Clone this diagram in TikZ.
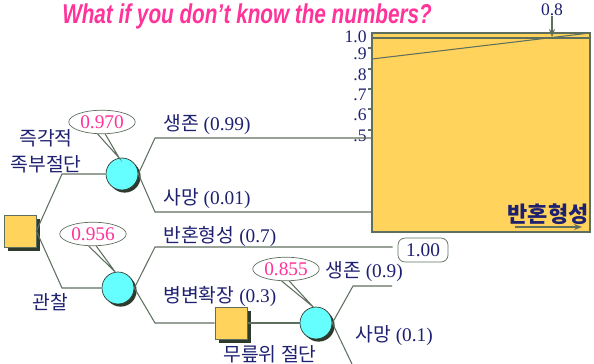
\documentclass[tikz,border=0pt]{standalone}
\usepackage{fontspec}
\setmainfont{Liberation Serif}
\setsansfont{Liberation Sans}
\newfontfamily\kr{Noto Sans CJK KR}
\usetikzlibrary{arrows.meta,shapes.geometric,shadows}
\definecolor{navytxt}{HTML}{1E2070}
\definecolor{pinkval}{HTML}{FF3399}
\definecolor{linegray}{HTML}{5F6F5F}
\definecolor{decyellow}{HTML}{FFD35C}
\definecolor{chancecyan}{HTML}{66FFFF}
\definecolor{shadowdark}{HTML}{2F3A2F}

\begin{document}
\begin{tikzpicture}[
    x=0.02cm, y=-0.02cm,
    font=\fontsize{11}{13}\selectfont, text=navytxt,
    dec/.style={rectangle, draw=linegray, fill=decyellow, minimum size=0.64cm, inner sep=0pt, drop shadow={shadow xshift=2pt, shadow yshift=-2pt, fill=shadowdark, opacity=1}},
    chance/.style={circle, draw=shadowdark, fill=chancecyan, minimum size=0.64cm, inner sep=0pt, drop shadow={shadow xshift=1.5pt, shadow yshift=-1.5pt, fill=shadowdark, opacity=1}},
    val/.style={ellipse, draw=linegray, fill=white, text=pinkval, inner sep=1pt, minimum width=1.0cm, minimum height=0.4cm},
    valbox/.style={rectangle, rounded corners=4pt, draw=linegray, fill=white, inner sep=2pt, minimum width=1.0cm, minimum height=0.48cm},
    chart/.style={rectangle, draw=linegray, fill=decyellow, line width=0.8pt, minimum width=4.36cm, minimum height=3.98cm, inner sep=0pt},
    lbl/.style={inner sep=0pt, align=center},
    tick/.style={font=\fontsize{10}{11}\selectfont, inner sep=0pt, anchor=east},
    br/.style={draw=linegray, line width=0.6pt},
    fl/.style={-{Stealth[length=1.6mm]}, draw=linegray, line width=0.6pt}
  ]
  \useasboundingbox (0,0) rectangle (594,364);

  % title
  \node[lbl, text=pinkval, xscale=0.76, transform shape, font=\sffamily\bfseries\itshape\fontsize{15.5}{18}\selectfont] (title) at (247,16) {What if you don’t know the numbers?};

  % plot of the value against p(반혼형성)
  \node[chart] (ch) at (481,132.5) {};
  \draw[br] (372,38) -- (590,38);
  \draw[br] (372,59) -- (590,33);
  \node[tick, anchor=center] (p8) at (552,10) {0.8};
  \draw[fl] (p8.south) -- (552,37);
  \node[tick] (y10) at (367,37) {1.0};
  \foreach \yy/\tt in {48/.9, 69/.8, 89/.7, 109/.6, 130/.5}{
    \draw[br] (368,\yy) -- (372,\yy);
    \node[tick] at (367,\yy+6) {\tt};
  }
  \node[lbl, font=\kr\bfseries\fontsize{12.5}{14}\selectfont] (xlab) at (548,214) {반혼형성};
  \draw[fl] (515,227) -- (582,227);

  % tree
  \node[dec] (d0) at (20,231) {};
  \node[chance] (c1) at (122,174) {};
  \node[chance] (c2) at (118,288) {};
  \node[dec] (d1) at (231,323) {};
  \node[chance] (c3) at (316,323) {};

  \node[val] (e1) at (102,122) {0.970};
  \node[val] (e2) at (93,234) {0.956};
  \node[val] (e3) at (286,269) {0.855};
  \node[valbox] (v1) at (423,250) {1.00};

  \node[lbl, font=\kr\fontsize{11}{15}\selectfont] (a1) at (46,151) {즉각적\\족부절단};
  \node[lbl, font=\kr\fontsize{11}{13}\selectfont] (a2) at (50,302) {관찰};
  \node[lbl, font=\kr\fontsize{11}{13}\selectfont] (a3) at (270,354) {무릎위 절단};

  \node[lbl, anchor=west] (l1) at (163,125) {{\kr 생존} (0.99)};
  \node[lbl, anchor=west] (l2) at (163,199) {{\kr 사망} (0.01)};
  \node[lbl, anchor=west] (l3) at (163,236) {{\kr 반혼형성} (0.7)};
  \node[lbl, anchor=west] (l4) at (163,296) {{\kr 병변확장} (0.3)};
  \node[lbl, anchor=west] (l5) at (325,272) {{\kr 생존} (0.9)};
  \node[lbl, anchor=west] (l6) at (355,336) {{\kr 사망} (0.1)};

  \coordinate (k1) at (62,174);
  \coordinate (k2) at (62,288);
  \coordinate (s1) at (155,138);
  \coordinate (s2) at (155,212);
  \coordinate (b1) at (155,247);
  \coordinate (b2) at (155,323);
  \coordinate (t1) at (353,286);
  \coordinate (t1e) at (392,286);
  \coordinate (t2) at (352,364);

  \draw[br] (d0.east) -- (k1) -- (c1.west);
  \draw[br] (d0.east) -- (k2) -- (c2.west);
  \draw[br] (c1.east) -- (s1) -- (s1 -| ch.west);
  \draw[br] (c1.east) -- (s2) -- (s2 -| ch.west);
  \draw[br, shorten >=0.1cm] (c2.east) -- (b1) -- (b1 -| v1.west);
  \draw[br] (c2.east) -- (b2) -- (d1.west);
  \draw[br] (d1.east) -- (c3.west);
  \draw[br] (c3.east) -- (t1) -- (t1e);
  \draw[br] (c3.east) -- (t2);

  \draw[br] (e1.-110) -- (c1.100) -- (e1.-75);
  \draw[br] (e2.-110) -- (c2.100) -- (e2.-75);
  \draw[br] (e3.-110) -- (c3.100) -- (e3.-75);
\end{tikzpicture}
\end{document}
